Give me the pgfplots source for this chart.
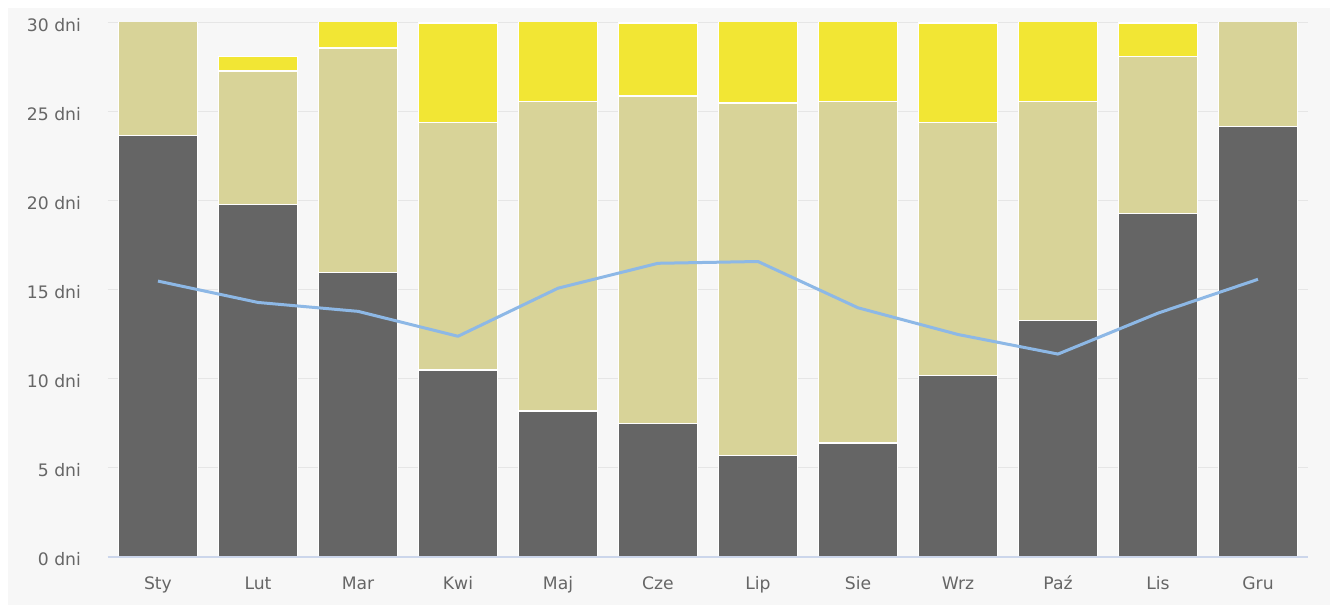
\documentclass[border=0pt]{standalone}
\usepackage{pgfplots}
\pgfplotsset{compat=1.18}
\usepackage{fontspec}
\setmainfont{DejaVu Sans}

\definecolor{panel}{HTML}{F7F7F7}
\definecolor{gridc}{HTML}{E6E6E6}
\definecolor{axisc}{HTML}{CCD6EB}
\definecolor{labelc}{HTML}{666666}
\definecolor{cloudy}{HTML}{656565}
\definecolor{partly}{HTML}{D8D398}
\definecolor{sunny}{HTML}{F2E634}
\definecolor{linec}{HTML}{8DB8E6}

% days per month: cloudy / partly cloudy / sunny, plus the blue line
\pgfplotstableread{
x  cloudy partly sunny line
0  23.7   7.3    0.0   15.5
1  19.8   7.5    0.8   14.3
2  16.0   12.6   2.4   13.8
3  10.5   13.9   5.6   12.4
4  8.2    17.4   5.4   15.1
5  7.5    18.4   4.1   16.5
6  5.7    19.8   5.5   16.6
7  6.4    19.2   5.4   14.0
8  10.2   14.2   5.6   12.5
9  13.3   12.3   5.4   11.4
10 19.3   8.8    1.9   13.7
11 24.2   6.8    0.0   15.6
}\days

\begin{document}
\begin{tikzpicture}
\fill[white] (-54pt,-24pt) rectangle (611pt,278.5pt);
\fill[panel] (-50pt,-24pt) rectangle (611pt,274.5pt);
\path[use as bounding box] (-54pt,-24pt) rectangle (611pt,278.5pt);

\begin{axis}[
    at={(0,0)}, anchor=south west,
    scale only axis,
    width=600pt, height=267pt,
    ybar stacked,
    bar width=39.5pt,
    xmin=-0.5, xmax=11.5,
    ymin=0, ymax=30,
    xtick={0,...,11},
    xticklabels={Sty,Lut,Mar,Kwi,Maj,Cze,Lip,Sie,Wrz,Paź,Lis,Gru},
    ytick={0,5,...,30},
    ymajorgrids,
    major grid style={draw=gridc, line width=0.5pt},
    axis line style={draw=none},
    major tick length=0pt,
    tick style={draw=none},
    ticklabel style={font=\fontsize{8.6}{10}\selectfont, text=labelc},
    /pgf/number format/assume math mode=true,
    yticklabel={\pgfmathprintnumber{\tick} dni},
    yticklabel style={xshift=-10pt, yshift=-1pt},
    xticklabel style={anchor=base, yshift=-16.5pt},
]
\addplot[fill=cloudy, draw=white, line width=0.6pt] table[x=x, y=cloudy] {\days};
\addplot[fill=partly, draw=white, line width=0.6pt] table[x=x, y=partly] {\days};
\addplot[fill=sunny, draw=white, line width=0.6pt] table[x=x, y=sunny] {\days};
\end{axis}

\draw[draw=axisc, line width=0.6pt] (0,0) -- (600pt,0);

\begin{axis}[
    at={(0,0)}, anchor=south west,
    scale only axis,
    width=600pt, height=267pt,
    xmin=-0.5, xmax=11.5,
    ymin=0, ymax=30,
    hide axis,
]
\addplot[linec, line width=1.5pt, no marks, line join=round] table[x=x, y=line] {\days};
\end{axis}
\end{tikzpicture}
\end{document}
